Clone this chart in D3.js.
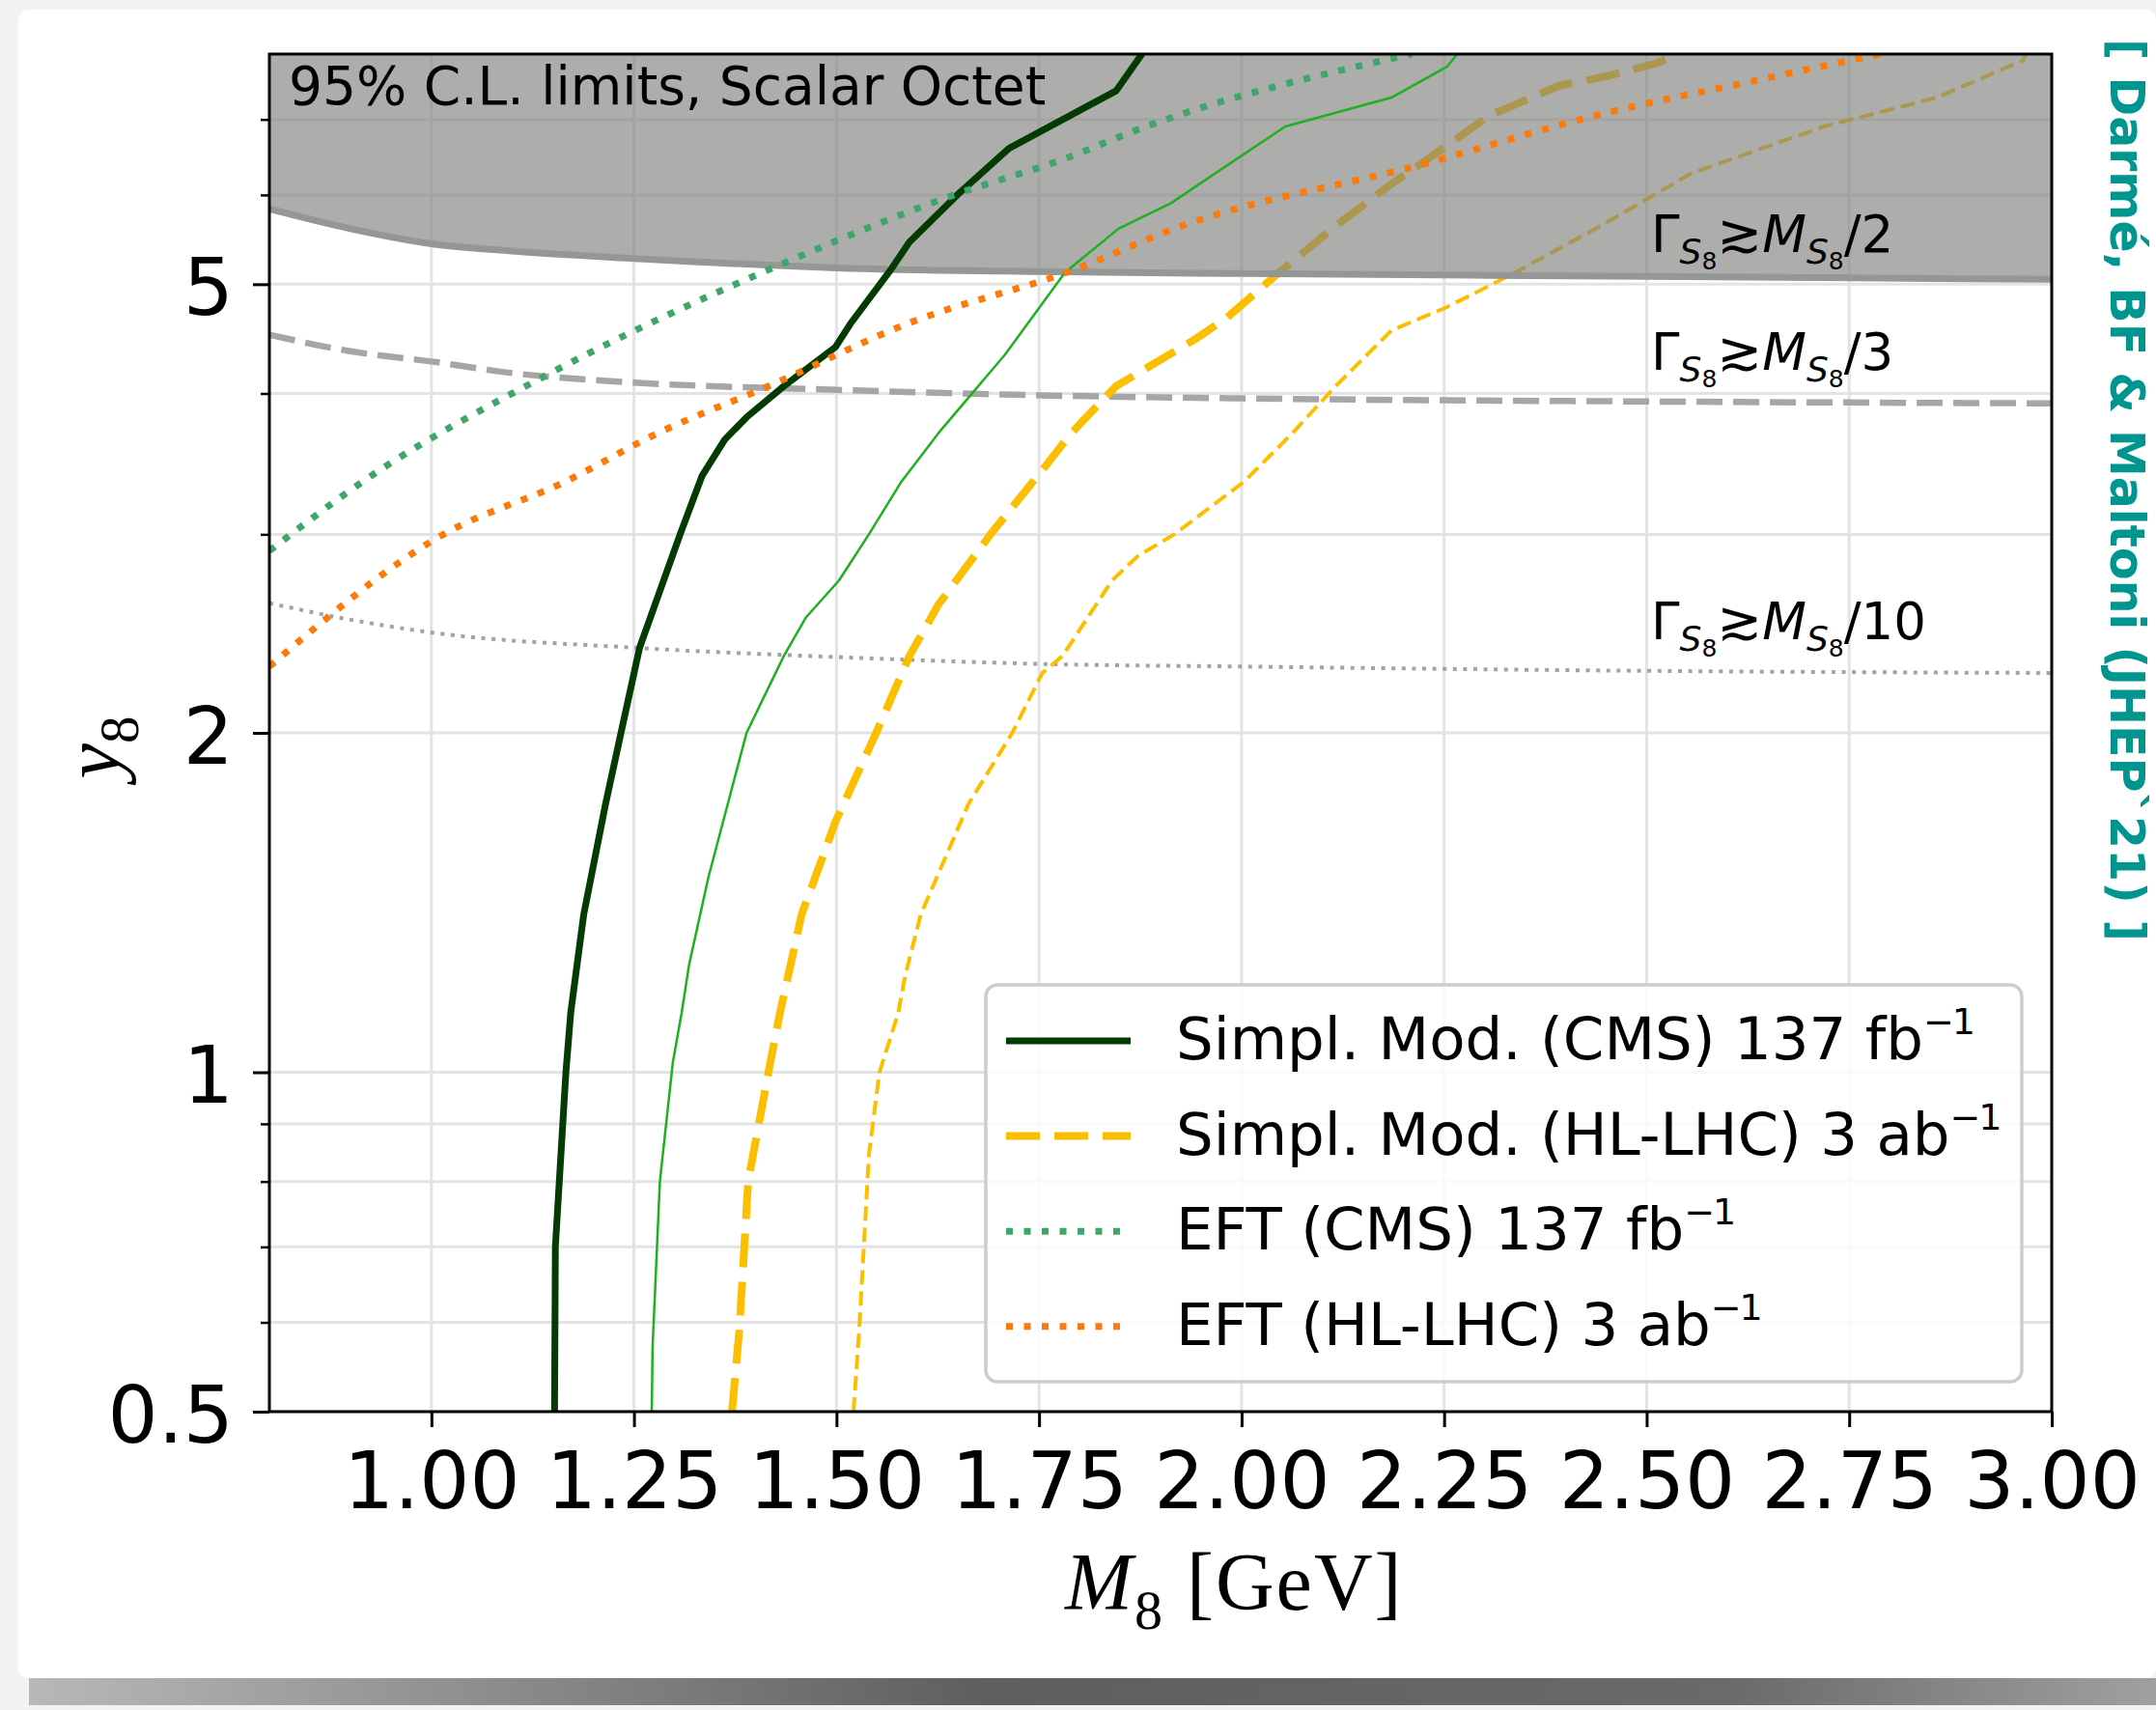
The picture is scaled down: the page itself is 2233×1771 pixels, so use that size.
<!DOCTYPE html>
<html><head><meta charset="utf-8">
<script src="https://cdn.jsdelivr.net/npm/d3@7"></script>
<style>html,body{margin:0;padding:0;background:#f2f2f2}svg{display:block}</style>
</head><body>
<svg id="chart" width="2233" height="1771"></svg>
<script>
// ---------------- data ----------------
const massTicks = [1.00, 1.25, 1.50, 1.75, 2.00, 2.25, 2.50, 2.75, 3.00];
const yMajorTicks = [0.5, 1, 2, 5];
const yMinorTicks = [0.6, 0.7, 0.8, 0.9, 3, 4, 6, 7];

// width-limit reference curves  [M8, y8]
const gammaHalf  = [[0.8,5.83],[0.9,5.6],[1.0,5.43],[1.1,5.35],[1.25,5.27],[1.5,5.17],[1.75,5.13],[2.0,5.11],[2.5,5.08],[3.0,5.05]];
const gammaThird = [[0.8,4.51],[0.9,4.36],[1.0,4.27],[1.1,4.17],[1.25,4.09],[1.5,4.03],[1.75,3.985],[2.0,3.96],[2.5,3.935],[3.0,3.92]];
const gammaTenth = [[0.8,2.607],[0.9,2.52],[1.0,2.455],[1.25,2.38],[1.5,2.335],[1.78,2.30],[2.0,2.29],[2.5,2.27],[3.0,2.26]];

// limit curves [M8, y8]
const simplCMS = [[1.152,0.5],[1.153,0.70],[1.166,1.0],[1.172,1.13],[1.188,1.38],[1.215,1.73],[1.234,2.0],[1.257,2.38],[1.307,3.0],[1.334,3.38],[1.362,3.64],[1.389,3.81],[1.435,4.06],[1.499,4.4],[1.517,4.61],[1.567,5.15],[1.590,5.45],[1.649,6.0],[1.713,6.6],[1.845,7.42],[1.877,8.0]];
const simplCMSthin = [[1.272,0.5],[1.273,0.57],[1.282,0.80],[1.298,1.02],[1.309,1.13],[1.318,1.245],[1.342,1.49],[1.389,2.0],[1.435,2.34],[1.462,2.53],[1.503,2.73],[1.540,3.0],[1.580,3.34],[1.626,3.69],[1.708,4.33],[1.782,5.12],[1.848,5.6],[1.913,5.9],[1.986,6.4],[2.054,6.9],[2.185,7.32],[2.254,7.8],[2.266,8.0]];
const simplHL = [[1.371,0.5],[1.380,0.59],[1.391,0.80],[1.416,1.0],[1.430,1.127],[1.457,1.38],[1.499,1.67],[1.549,2.0],[1.590,2.34],[1.626,2.6],[1.690,3.0],[1.754,3.42],[1.790,3.69],[1.845,4.06],[1.943,4.47],[1.982,4.67],[2.042,5.09],[2.116,5.63],[2.180,6.1],[2.262,6.7],[2.305,7.05],[2.392,7.5],[2.452,7.65],[2.512,7.85],[2.538,8.0]];
const simplHLthin = [[1.521,0.5],[1.528,0.59],[1.540,0.845],[1.553,1.0],[1.576,1.127],[1.585,1.22],[1.604,1.38],[1.663,1.73],[1.717,2.0],[1.754,2.26],[1.779,2.34],[1.840,2.73],[1.872,2.87],[1.917,3.0],[2.003,3.34],[2.063,3.69],[2.116,4.06],[2.185,4.55],[2.253,4.77],[2.331,5.09],[2.443,5.63],[2.555,6.27],[2.719,6.9],[2.858,7.32],[2.965,7.9],[2.968,8.0]];
const eftCMS = [[0.8,2.9],[0.915,3.34],[1.147,4.17],[1.435,5.22],[1.645,6.0],[1.779,6.45],[1.882,6.9],[2.21,8.0]];
const eftHL = [[0.8,2.29],[1.015,3.0],[1.165,3.34],[1.280,3.69],[1.416,4.06],[1.590,4.62],[1.790,5.14],[1.926,5.63],[2.228,6.4],[2.435,7.05],[2.642,7.6],[2.788,8.0]];

const legendLabels = ["Simpl. Mod. (CMS) 137 fb", "Simpl. Mod. (HL-LHC) 3 ab", "EFT (CMS) 137 fb", "EFT (HL-LHC) 3 ab"];
const gammaLabels = ["2", "3", "10"];
const gammaLabelY = [5.34, 4.20, 2.42];

// ---------------- drawing ----------------
const svg = d3.select("#chart");
const P = {left:279, right:2125, top:56, bottom:1462};
const x = d3.scaleLinear().domain([0.8, 3.0]).range([P.left, P.right]);
const y = d3.scaleLog().domain([0.5, 8]).range([P.bottom, P.top]);

const SANS = "DejaVu Sans, Liberation Sans, sans-serif";
const SERIF = "Liberation Serif, DejaVu Serif, serif";

// background card
const defs = svg.append("defs");
const g1 = defs.append("linearGradient").attr("id","shadow").attr("x1","0").attr("x2","1").attr("y1","0").attr("y2","0");
g1.append("stop").attr("offset","0").attr("stop-color","#b8b8b8");
g1.append("stop").attr("offset","0.45").attr("stop-color","#5e5e5e");
g1.append("stop").attr("offset","0.8").attr("stop-color","#6a6a6a");
g1.append("stop").attr("offset","1").attr("stop-color","#a0a0a0");
svg.append("rect").attr("x",0).attr("y",0).attr("width",2233).attr("height",1771).attr("fill","#f2f2f2");
svg.append("rect").attr("x",30).attr("y",1738).attr("width",2203).attr("height",28).attr("fill","url(#shadow)");
svg.append("rect").attr("x",19).attr("y",10).attr("width",2214).attr("height",1728).attr("rx",10).attr("fill","#ffffff");

defs.append("clipPath").attr("id","clip").append("rect")
  .attr("x",P.left).attr("y",P.top).attr("width",P.right-P.left).attr("height",P.bottom-P.top);

// grid
const grid = svg.append("g").attr("clip-path","url(#clip)");
grid.selectAll("line.v").data(massTicks).join("line")
  .attr("x1",d=>x(d)).attr("x2",d=>x(d)).attr("y1",P.top).attr("y2",P.bottom)
  .attr("stroke","#e3e3e3").attr("stroke-width",3);
grid.selectAll("line.h").data(yMajorTicks.concat(yMinorTicks)).join("line")
  .attr("y1",d=>y(d)).attr("y2",d=>y(d)).attr("x1",P.left).attr("x2",P.right)
  .attr("stroke","#e3e3e3").attr("stroke-width",3);

const line = d3.line().x(d=>x(d[0])).y(d=>y(d[1]));
const smooth = d3.line().x(d=>x(d[0])).y(d=>y(d[1])).curve(d3.curveMonotoneX);
const plotG = svg.append("g").attr("clip-path","url(#clip)");

function draw(data, gen, color, width, dash, cap){
  plotG.append("path").datum(data).attr("d",gen).attr("fill","none")
    .attr("stroke",color).attr("stroke-width",width)
    .attr("stroke-dasharray",dash||null).attr("stroke-linecap",cap||"butt")
    .attr("stroke-linejoin","round");
}

// reference width curves
draw(gammaThird, smooth, "#a6a6a6", 6.5, "27 11");
draw(gammaTenth, smooth, "#a3a3a3", 4, "4 6.6");

// yellow (HL-LHC) curves, below the band
draw(simplHLthin, line, "#fcbf00", 4, "15 7");
draw(simplHL, line, "#fcbf00", 8, "35 15");

// excluded band
plotG.append("path").datum(gammaHalf)
  .attr("d", d3.area().x(d=>x(d[0])).y0(y(8)).y1(d=>y(d[1])).curve(d3.curveMonotoneX))
  .attr("fill","#7e817c").attr("fill-opacity",0.64);
draw(gammaHalf, smooth, "#959794", 7);

// remaining curves
draw(simplCMSthin, line, "#1fb01f", 2.5);
draw(simplCMS, line, "#033b03", 7);
draw(eftCMS, smooth, "#3ea66b", 7, "7 11.5");
draw(eftHL, smooth, "#fb7a0a", 7, "7 11.5");

// axes
const xAxis = d3.axisBottom(x).tickValues(massTicks).tickFormat(d3.format(".2f")).tickSize(16).tickPadding(26).tickSizeOuter(0);
const gx = svg.append("g").attr("transform",`translate(0,${P.bottom})`).call(xAxis);
gx.select(".domain").remove();
gx.selectAll("line").attr("stroke","#000").attr("stroke-width",3);
gx.selectAll("text").attr("font-family",SANS).attr("font-size",82).attr("fill","#000");

const yAxis = d3.axisLeft(y).tickValues(yMajorTicks).tickFormat(d=>String(d)).tickSize(17).tickPadding(20).tickSizeOuter(0);
const gy = svg.append("g").attr("transform",`translate(${P.left},0)`).call(yAxis);
gy.select(".domain").remove();
gy.selectAll("line").attr("stroke","#000").attr("stroke-width",3);
gy.selectAll("text").attr("font-family",SANS).attr("font-size",82).attr("fill","#000").attr("dy","0.38em");

const yMinor = d3.axisLeft(y).tickValues(yMinorTicks).tickFormat("").tickSize(9).tickSizeOuter(0);
const gym = svg.append("g").attr("transform",`translate(${P.left},0)`).call(yMinor);
gym.select(".domain").remove();
gym.selectAll("line").attr("stroke","#000").attr("stroke-width",2.5);

// frame
svg.append("rect").attr("x",P.left).attr("y",P.top).attr("width",P.right-P.left).attr("height",P.bottom-P.top)
  .attr("fill","none").attr("stroke","#000").attr("stroke-width",3);

// top-left annotation
svg.append("text").attr("x",299).attr("y",108).attr("font-family",SANS).attr("font-size",55)
  .attr("fill","#000").text("95% C.L. limits, Scalar Octet");

// gamma labels
const gl = svg.append("g").attr("font-family",SANS).attr("fill","#000");
gammaLabels.forEach((lab,i)=>{
  const t = gl.append("text").attr("x",1710).attr("y", y(gammaLabelY[i])).attr("font-size",53);
  t.append("tspan").text("Γ");
  t.append("tspan").attr("font-style","italic").attr("font-size",36).attr("dy",12).text("S");
  t.append("tspan").attr("font-size",25).attr("dy",6).text("8");
  t.append("tspan").attr("dy",-18).attr("font-size",56).text("≳");
  t.append("tspan").attr("font-style","italic").text("M");
  t.append("tspan").attr("font-style","italic").attr("font-size",36).attr("dy",12).text("S");
  t.append("tspan").attr("font-size",25).attr("dy",6).text("8");
  t.append("tspan").attr("dy",-18).text("/" + lab);
});

// axis labels
const xl = svg.append("text").attr("x",1103).attr("y",1667).attr("font-family",SERIF).attr("font-size",84)
  .attr("letter-spacing",2).attr("fill","#000");
xl.append("tspan").attr("font-style","italic").text("M");
xl.append("tspan").attr("font-size",58).attr("dy",20).text("8");
xl.append("tspan").attr("dy",-20).text(" [GeV]");

const yl = svg.append("text").attr("transform","translate(123,774) rotate(-90)").attr("text-anchor","middle")
  .attr("font-family",SERIF).attr("font-size",82).attr("fill","#000");
yl.append("tspan").attr("font-style","italic").text("y");
yl.append("tspan").attr("font-size",57).attr("dy",20).text("8");

// legend
const L = {x:1021, y:1020, w:1073, h:411};
svg.append("rect").attr("x",L.x).attr("y",L.y).attr("width",L.w).attr("height",L.h).attr("rx",12)
  .attr("fill","#fff").attr("fill-opacity",0.8).attr("stroke","#cdcdcd").attr("stroke-width",3.5);
const legStyles = [
  {c:"#033b03", w:7, d:null},
  {c:"#fcbf00", w:8, d:"35 15"},
  {c:"#3ea66b", w:7, d:"7 11.5"},
  {c:"#fb7a0a", w:7, d:"7 11.5"}
];
legendLabels.forEach((lab,i)=>{
  const cy = 1078 + i*98.6;
  const s = legStyles[i];
  svg.append("line").attr("x1",1042).attr("x2",1171).attr("y1",cy).attr("y2",cy)
    .attr("stroke",s.c).attr("stroke-width",s.w).attr("stroke-dasharray",s.d);
  const t = svg.append("text").attr("x",1218).attr("y",cy+19).attr("font-family",SANS).attr("font-size",61).attr("fill","#000");
  t.append("tspan").text(lab);
  t.append("tspan").attr("font-size",38).attr("dy",-26).attr("letter-spacing",-2).text("−1");
});

// side credit
svg.append("text").attr("transform","translate(2186,40) rotate(90)")
  .attr("font-family",SANS).attr("font-weight","bold").attr("font-size",49).attr("fill","#00968f")
  .text("[ Darmé, BF & Maltoni (JHEP`21) ]");
</script>
</body></html>
